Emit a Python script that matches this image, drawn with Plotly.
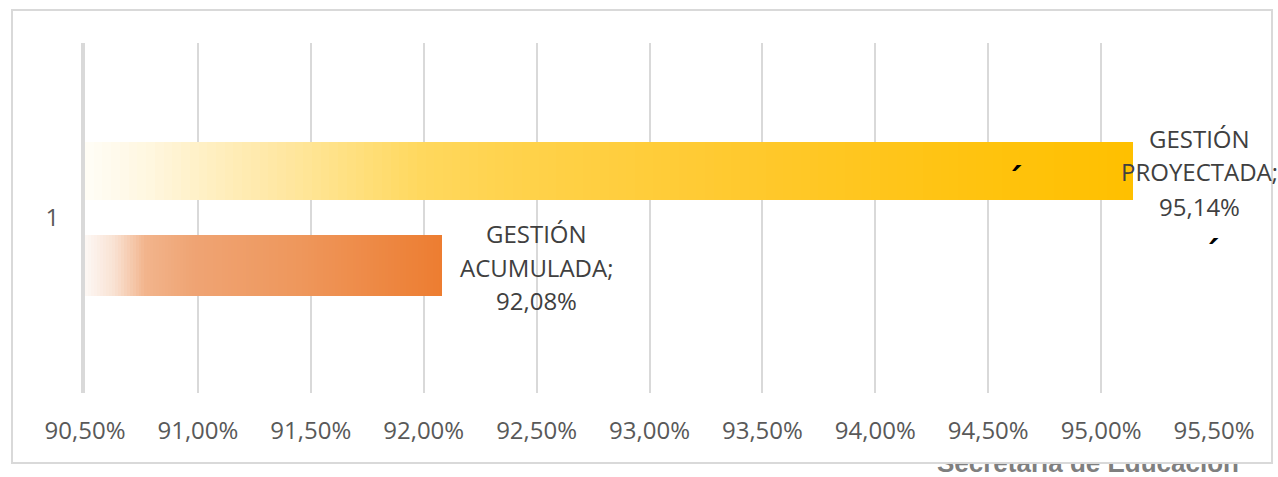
import plotly.graph_objects as go

# ---- data ----
categories = ["1"]
series_names = ["GESTIÓN ACUMULADA", "GESTIÓN PROYECTADA"]
series_values = [0.9208, 0.9514]
axis_min = 0.905
axis_max = 0.955
tick_step = 0.005
footer_text = "Secretaría de Educación"

# ---- styles ----
grad_stops = {
    "GESTIÓN ACUMULADA": [(0.0, "#fdf8f5"), (0.08, "#f9e2d3"), (0.17, "#f2b48c"),
                          (0.3, "#efa474"), (0.6, "#ee975c"), (1.0, "#ed7d31")],
    "GESTIÓN PROYECTADA": [(0.0, "#fffdf7"), (0.06, "#fff7e0"), (0.11, "#fff0c6"),
                           (0.2, "#ffe69c"), (0.32, "#ffd85e"), (0.42, "#ffd24a"),
                           (0.6, "#ffca32"), (0.85, "#ffc30f"), (1.0, "#ffc000")],
}
bar_offset = {"GESTIÓN ACUMULADA": -0.222, "GESTIÓN PROYECTADA": 0.0514}
bar_width = {"GESTIÓN ACUMULADA": 0.1734, "GESTIÓN PROYECTADA": 0.1657}
# (x shift, y shifts of the three label lines) in pixels
label_shift = {"GESTIÓN ACUMULADA": (95, [-15, -49, -82]),
               "GESTIÓN PROYECTADA": (67, [80, 47, 12])}
N_SEG = 120


def hex2rgb(h):
    h = h.lstrip("#")
    return tuple(int(h[i:i + 2], 16) for i in (0, 2, 4))


def interp(stops, t):
    for (t0, c0), (t1, c1) in zip(stops[:-1], stops[1:]):
        if t <= t1:
            f = 0 if t1 == t0 else (t - t0) / (t1 - t0)
            a, b = hex2rgb(c0), hex2rgb(c1)
            return "rgb(%d,%d,%d)" % tuple(round(a[k] + (b[k] - a[k]) * f) for k in range(3))
    return stops[-1][1]


W, H = 1278, 477
L, R, T, B = 85, 0, 43, 0
plot_w = W - L - R
plot_h = H - T - B
x_dom_end = (1214 - L) / plot_w
y_dom_start = (H - 393) / plot_h

fig = go.Figure()

for name, val in zip(series_names, series_values):
    step = (val - axis_min) / N_SEG
    bases = [axis_min + i * step for i in range(N_SEG)]
    lengths = [val - b for b in bases]
    colors = [interp(grad_stops[name], (i + 0.5) / N_SEG) for i in range(N_SEG)]
    fig.add_trace(go.Bar(
        y=categories * N_SEG, x=lengths, base=bases, orientation="h",
        marker=dict(color=colors, line=dict(width=0)),
        width=bar_width[name], offset=bar_offset[name],
        name=name, showlegend=False, hoverinfo="skip",
    ))
    title = name.split(" ")
    lines = [title[0], title[1] + ";", ("%.2f%%" % (val * 100)).replace(".", ",")]
    xs, yss = label_shift[name]
    for line, ys in zip(lines, yss):
        fig.add_annotation(x=val, y=0, xref="x", yref="y", text=line,
                           showarrow=False, xanchor="center", yanchor="middle",
                           xshift=xs, yshift=ys, align="center",
                           font=dict(family="Open Sans", size=24, color="#404040"))

# small stray accent marks present in the picture
for px, py in [(1016, 167), (1213, 240)]:
    fig.add_annotation(x=(px - L) / plot_w, y=(H - py) / plot_h, xref="paper", yref="paper",
                       text="´", showarrow=False, xanchor="center", yanchor="middle",
                       yshift=-13, xshift=-2,
                       font=dict(family="DejaVu Sans", size=34, color="#000000", weight="bold"))

# clipped footer text (bottom right)
fig.add_trace(go.Scatter(
    x=[0.8407], y=[0.9], mode="text", text=[footer_text], xaxis="x2", yaxis="y2",
    textposition="middle center", cliponaxis=True, showlegend=False, hoverinfo="skip",
    textfont=dict(family="Liberation Sans", size=26, color="#7f7f7f", weight="bold"),
))

# outer chart border
fig.add_shape(type="rect", xref="paper", yref="paper",
              x0=(12 - L) / plot_w, x1=(1272 - L) / plot_w,
              y0=(H - 463) / plot_h, y1=(H - 10) / plot_h,
              line=dict(color="#d9d9d9", width=2), fillcolor="rgba(0,0,0,0)", layer="below")

ticks = [axis_min + i * tick_step for i in range(int(round((axis_max - axis_min) / tick_step)) + 1)]

fig.update_layout(
    width=W, height=H, autosize=False,
    margin=dict(l=L, r=R, t=T, b=B, pad=0, autoexpand=False),
    paper_bgcolor="white", plot_bgcolor="white",
    barmode="overlay", bargap=0,
    separators=",.",
    xaxis=dict(domain=[0, x_dom_end], range=[axis_min, axis_max], tickvals=ticks,
               tickformat=".2%", showgrid=True, gridcolor="#d9d9d9", gridwidth=2,
               zeroline=False, showline=False, ticks="", automargin=False,
               tickfont=dict(family="Open Sans", size=24, color="#595959"),
               ticklabelstandoff=21, anchor="y"),
    yaxis=dict(domain=[y_dom_start, 1], range=[-0.5, 0.5], type="category",
               showgrid=False, zeroline=False, showline=True, linecolor="#d9d9d9",
               linewidth=4, ticks="", ticklabelstandoff=17, automargin=False,
               tickfont=dict(family="Open Sans", size=24, color="#595959"), anchor="x"),
    xaxis2=dict(domain=[0, 1], range=[0, 1], visible=False, anchor="y2", automargin=False),
    yaxis2=dict(domain=[0, (H - 464) / plot_h], range=[0, 1], visible=False, anchor="x2",
                automargin=False),
)

fig.write_html("out.html", config={"displayModeBar": False},
               post_script="document.body.style.margin='0';document.body.style.overflow='hidden';")
